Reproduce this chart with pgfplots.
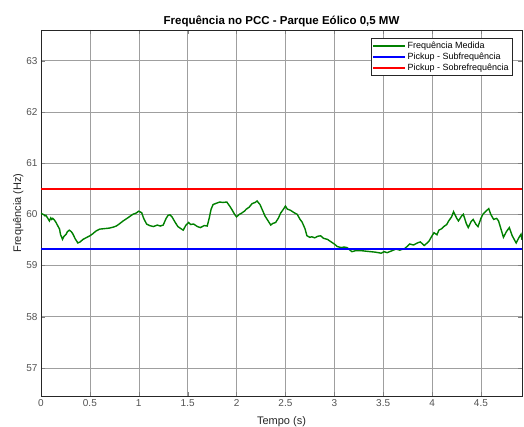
\documentclass[border=0pt]{standalone}
\usepackage{pgfplots}
\pgfplotsset{compat=1.18}
\usepackage{fontspec}
\setmainfont{Liberation Sans}
\definecolor{mgreen}{rgb}{0,0.5,0}
\definecolor{mtick}{gray}{0.15}

\begin{document}
\begin{tikzpicture}
\begin{axis}[
    scale only axis,
    width=481pt, height=366pt,
    xmin=0, xmax=4.92,
    ymin=56.45, ymax=63.6,
    xtick={0,0.5,...,4.5},
    ytick={57,58,...,63},
    xticklabel style={/pgf/number format/fixed},
    /pgf/number format/assume math mode=true,
    tick label style={font=\fontsize{10}{12}\selectfont, color=mtick!80},
    tick align=inside,
    major tick length=4pt,
    axis line style={draw=mtick},
    grid=major,
    grid style={gray!75, line width=0.5pt},
    title={\bfseries Frequência no PCC - Parque Eólico 0,5 MW},
    title style={font=\fontsize{11.5}{13}\selectfont, yshift=-6pt},
    xlabel={Tempo (s)},
    ylabel={Frequência (Hz)},
    label style={font=\fontsize{11}{13}\selectfont, color=mtick},
    xlabel style={yshift=-3pt},
    ylabel style={yshift=-4pt},
    legend style={at={(0.98,0.978)}, anchor=north east, font=\fontsize{9}{10.5}\selectfont,
        draw=mtick, inner sep=1.5pt, row sep=-1pt, cells={anchor=west}},
    legend image code/.code={\draw[#1, line width=2pt] (0cm,0cm) -- (1.1cm,0cm);},
]
\addplot[mgreen, line width=1.4pt] coordinates {
(0.00,60.02) (0.02,60.00) (0.03,59.99) (0.04,59.97) (0.05,59.98) (0.06,59.95) (0.07,59.92) (0.086,59.87)
(0.10,59.93) (0.11,59.90) (0.12,59.92) (0.14,59.88) (0.154,59.84) (0.17,59.78) (0.19,59.71)
(0.20,59.60) (0.21,59.56) (0.22,59.51) (0.235,59.57) (0.257,59.61) (0.27,59.66)
(0.29,59.69) (0.31,59.66) (0.325,59.62) (0.35,59.52) (0.377,59.44) (0.40,59.46)
(0.43,59.51) (0.46,59.54) (0.50,59.58) (0.53,59.62) (0.56,59.67) (0.60,59.71)
(0.65,59.72) (0.70,59.73) (0.74,59.75) (0.77,59.77) (0.80,59.81) (0.84,59.87)
(0.88,59.92) (0.91,59.96) (0.94,60.00) (0.97,60.02) (1.00,60.06) (1.03,60.03)
(1.05,59.92) (1.08,59.81) (1.11,59.78) (1.15,59.76) (1.19,59.79) (1.22,59.77)
(1.25,59.79) (1.28,59.92) (1.30,59.98) (1.32,59.99) (1.34,59.95) (1.37,59.85)
(1.40,59.76) (1.43,59.72) (1.455,59.69) (1.48,59.78) (1.51,59.84) (1.53,59.80)
(1.56,59.81) (1.60,59.76) (1.63,59.74) (1.67,59.78) (1.70,59.77) (1.72,59.92)
(1.74,60.10) (1.76,60.19) (1.80,60.22) (1.83,60.24) (1.86,60.23) (1.90,60.24)
(1.93,60.16) (1.95,60.10) (1.98,60.00) (2.00,59.95) (2.03,60.00) (2.05,60.02)
(2.08,60.06) (2.10,60.10) (2.13,60.14) (2.16,60.21) (2.19,60.23) (2.21,60.26)
(2.24,60.19) (2.27,60.06) (2.29,59.97) (2.32,59.88) (2.35,59.79) (2.37,59.82)
(2.40,59.84) (2.43,59.93) (2.45,60.02) (2.48,60.10) (2.50,60.16) (2.52,60.10)
(2.55,60.08) (2.59,60.03) (2.62,60.00) (2.65,59.90) (2.67,59.85) (2.70,59.72)
(2.72,59.58) (2.75,59.55) (2.77,59.56) (2.80,59.54) (2.83,59.57) (2.86,59.58)
(2.89,59.53) (2.93,59.51) (2.96,59.47) (3.00,59.42) (3.03,59.37) (3.07,59.35)
(3.10,59.36) (3.13,59.35) (3.16,59.30) (3.18,59.27) (3.22,59.29) (3.27,59.29)
(3.32,59.28) (3.37,59.27) (3.42,59.26) (3.48,59.24) (3.51,59.27) (3.54,59.25)
(3.58,59.28) (3.63,59.32) (3.67,59.30) (3.72,59.33) (3.75,59.38) (3.77,59.42)
(3.81,59.40) (3.85,59.44) (3.88,59.46) (3.92,59.39) (3.95,59.44) (3.97,59.48)
(4.00,59.58) (4.02,59.64) (4.05,59.60) (4.07,59.69) (4.10,59.72) (4.12,59.76)
(4.15,59.80) (4.17,59.87) (4.20,59.95) (4.22,60.05) (4.25,59.93) (4.27,59.87)
(4.30,59.96) (4.32,60.00) (4.35,59.82) (4.37,59.74) (4.40,59.86) (4.42,59.90)
(4.45,59.80) (4.47,59.76) (4.50,59.92) (4.52,60.00) (4.55,60.06) (4.58,60.11)
(4.60,60.00) (4.63,59.90) (4.66,59.92) (4.68,59.87) (4.71,59.68) (4.73,59.55)
(4.76,59.66) (4.79,59.74) (4.82,59.58) (4.86,59.44) (4.89,59.55) (4.91,59.61)
(4.92,59.50)
};
\addlegendentry{Frequência Medida}
\addplot[blue, line width=2pt] coordinates {(0,59.32) (4.92,59.32)};
\addlegendentry{Pickup - Subfrequência}
\addplot[red, line width=2pt] coordinates {(0,60.5) (4.92,60.5)};
\addlegendentry{Pickup - Sobrefrequência}
\end{axis}
\pgfresetboundingbox
\path (-41pt,-30pt) rectangle (483pt,396pt);
\end{tikzpicture}
\end{document}
